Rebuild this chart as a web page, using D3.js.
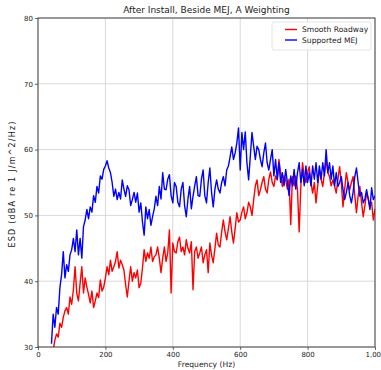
<!DOCTYPE html>
<html>
<head>
<meta charset="utf-8">
<script src="https://cdn.jsdelivr.net/npm/d3@7"></script>
<style>
  html, body { margin: 0; padding: 0; background: #fff; }
  svg { display: block; }
  text { font-family: "DejaVu Sans", sans-serif; fill: #222; }
</style>
</head>
<body>
<div id="chart"></div>
<script>
// Frequency grid (Hz), 5 Hz spacing from 40 to 1000
const freqs = d3.range(40, 1001, 5);

// ESD spectra in dBA re 1 J/m^2/Hz
const smoothRoadway = [
  27, 29.5, 31, 32, 31.5, 33.6, 33, 34.5, 35.5, 36,
  35, 37.6, 36.5, 38.7, 42.2, 38.2, 37, 39.7, 42.2, 38.2,
  40.5, 39.1, 38, 36.7, 38.5, 36, 37, 38.2, 37.5, 40.2,
  38.5, 39.1, 40.5, 42.2, 41, 43.2, 41.5, 42.2, 43, 44.5,
  42, 43.2, 42.5, 41.7, 39.5, 37.6, 40, 42.2, 40, 41.3,
  40.5, 41.7, 39, 39.7, 42, 44.8, 43, 44.3, 43.5, 45.2,
  43, 43.7, 44, 45.2, 43.5, 41.3, 43.5, 45.2, 43, 44.3,
  47.8, 38.2, 45.8, 44.5, 44.3, 46, 46.7, 44.5, 45.2, 44,
  46.3, 45, 44.3, 46, 38.7, 44.5, 45.2, 43.5, 44.3, 45.2,
  42.8, 44, 44.8, 41.3, 45.8, 44, 42.8, 45, 47.3, 45.5,
  45.2, 47.5, 49.3, 47.5, 46.3, 48, 49.8, 47.5, 45.8, 48,
  50.4, 49, 49.3, 50.5, 51.3, 49.5, 50.4, 52, 51.3, 50,
  52.4, 54.5, 55.4, 53, 53.9, 55, 55.9, 54, 53.4, 55.5,
  56.6, 55, 54.4, 56, 55.4, 58.5, 56.5, 54.4, 56, 55.4,
  54, 55.5, 48.6, 55.9, 54.5, 56, 53.9, 47.5, 54.5, 58,
  56, 55, 56.5, 57.4, 55, 53.4, 55, 51.9, 54.5, 56.9,
  55.5, 54.4, 56.5, 58.5, 56.5, 55.9, 54.5, 55.4, 54.5, 53.4,
  55.5, 57.4, 55, 51.3, 54, 56.5, 55, 53.9, 55, 55.9,
  53, 50.4, 53, 54.4, 52, 49.8, 51.5, 53.4, 52.5, 51.3,
  52, 49.3, 51
];

const supportedMEJ = [
  30.5, 35, 33, 36, 35, 39, 41, 44.5, 40.5, 42.5,
  41.5, 44, 44.8, 46.5, 44.5, 47.8, 44, 46.5, 43.5, 48.3,
  49.3, 50.9, 49.5, 51.3, 50.5, 53, 52, 54.4, 53.4, 56,
  55.5, 57, 57.5, 58.3, 57.2, 56.5, 55, 52.9, 54, 52.4,
  53.5, 52.5, 55.4, 54, 52.9, 54.5, 53.9, 51.5, 52.4, 53.5,
  52, 53.4, 50.5, 51.9, 49, 47, 51.3, 49.5, 50.9, 48.5,
  49.8, 51, 52.9, 51.5, 54.4, 52.5, 56.5, 54, 53.9, 55.5,
  56.2, 53, 51.9, 55, 54.4, 52, 51.3, 54, 55, 51.5,
  49.8, 52.5, 54.4, 51, 52.9, 54.5, 55.9, 53, 52.9, 55.5,
  56.9, 53, 51.9, 55, 57.2, 53.5, 51.3, 54, 55.4, 54,
  53.4, 55, 55.9, 54.5, 56.9, 57.5, 58.9, 60.4, 58.5, 59.5,
  61, 63.3, 56.9, 62.6, 60, 62.7, 58, 55.4, 59, 62.6,
  60.5, 58.5, 60.5, 60, 58.5, 57.4, 59.5, 61, 58, 56.9,
  58.5, 60, 56, 58.5, 55.5, 58, 55, 56.5, 54.5, 57,
  55, 53, 56, 54.5, 57, 54, 56.5, 58, 55, 57,
  54.5, 57.5, 55, 56.5, 54.5, 57.5, 55.5, 58, 55, 57.5,
  55.5, 58, 56, 60, 56.5, 58, 55.5, 57.5, 54.5, 56.5,
  54.4, 55, 55.9, 54, 52.4, 53.5, 55, 53, 51.9, 53.5,
  55.9, 57.2, 55, 52.9, 53.5, 51.9, 52.5, 53.9, 52.5, 50.9,
  54.2, 52.4, 53
];

const xTicks = [0, 200, 400, 600, 800, 1000];
const yTicks = [30, 40, 50, 60, 70, 80];
const seriesNames = ["Smooth Roadway", "Supported MEJ"];
const seriesColors = ["#ff0000", "#0000ff"];

const W = 381, H = 370;
const margin = { top: 18, right: 6, bottom: 23, left: 38 };
const iw = W - margin.left - margin.right;
const ih = H - margin.top - margin.bottom;

const svg = d3.select("#chart").append("svg")
  .attr("width", W).attr("height", H);

const x = d3.scaleLinear().domain([0, 1000]).range([0, iw]);
const y = d3.scaleLinear().domain([30, 80]).range([ih, 0]);

const g = svg.append("g").attr("transform", `translate(${margin.left},${margin.top})`);

svg.append("defs").append("clipPath").attr("id", "plot-clip")
  .append("rect").attr("width", iw).attr("height", ih);

// grid
g.append("g").selectAll("line.gx").data(xTicks).join("line")
  .attr("x1", d => x(d)).attr("x2", d => x(d))
  .attr("y1", 0).attr("y2", ih)
  .attr("stroke", "#cfcfcf").attr("stroke-width", 0.8);
g.append("g").selectAll("line.gy").data(yTicks).join("line")
  .attr("y1", d => y(d)).attr("y2", d => y(d))
  .attr("x1", 0).attr("x2", iw)
  .attr("stroke", "#cfcfcf").attr("stroke-width", 0.8);

// series
const line = d3.line().x((d, i) => x(freqs[i])).y(d => y(d));
const plot = g.append("g").attr("clip-path", "url(#plot-clip)");
[smoothRoadway, supportedMEJ].forEach((vals, k) => {
  plot.append("path").datum(vals)
    .attr("d", line)
    .attr("fill", "none")
    .attr("stroke", seriesColors[k])
    .attr("stroke-width", 1.4)
    .attr("stroke-linejoin", "round");
});

// axes
const xAxis = d3.axisBottom(x).tickValues(xTicks).tickSize(3).tickPadding(2);
const yAxis = d3.axisLeft(y).tickValues(yTicks).tickSize(3).tickPadding(2);
const gx = g.append("g").attr("transform", `translate(0,${ih})`).call(xAxis);
const gy = g.append("g").call(yAxis);
[gx, gy].forEach(a => {
  a.select(".domain").remove();
  a.selectAll("line").attr("stroke", "#444").attr("stroke-width", 0.8);
  a.selectAll("text").style("font-size", "7px").attr("fill", "#333");
});

// frame
g.append("rect").attr("width", iw).attr("height", ih)
  .attr("fill", "none").attr("stroke", "#333").attr("stroke-width", 0.9);

// title and labels
svg.append("text")
  .attr("x", margin.left + iw / 2).attr("y", 13)
  .attr("text-anchor", "middle")
  .style("font-size", "9px")
  .text("After Install, Beside MEJ, A Weighting");

svg.append("text")
  .attr("x", margin.left + iw / 2).attr("y", H - 3)
  .attr("text-anchor", "middle")
  .style("font-size", "7.6px")
  .text("Frequency (Hz)");

svg.append("text")
  .attr("transform", `translate(15,${margin.top + ih / 2 + 2}) rotate(-90)`)
  .attr("text-anchor", "middle")
  .style("font-size", "8px")
  .attr("textLength", 126)
  .text("ESD (dBA re 1 J/m^2/Hz)");

// legend
const lg = g.append("g").attr("transform", `translate(${iw - 103},4)`);
lg.append("rect").attr("width", 99).attr("height", 28)
  .attr("fill", "#fff").attr("fill-opacity", 0.85)
  .attr("stroke", "#dddddd").attr("stroke-width", 0.8).attr("rx", 2);
seriesNames.forEach((name, i) => {
  const yy = 7.5 + i * 10.5;
  lg.append("line").attr("x1", 13).attr("x2", 25).attr("y1", yy).attr("y2", yy)
    .attr("stroke", seriesColors[i]).attr("stroke-width", 1.4);
  lg.append("text").attr("x", 30).attr("y", yy + 2.8)
    .style("font-size", "7.6px").text(name);
});
</script>
</body>
</html>
